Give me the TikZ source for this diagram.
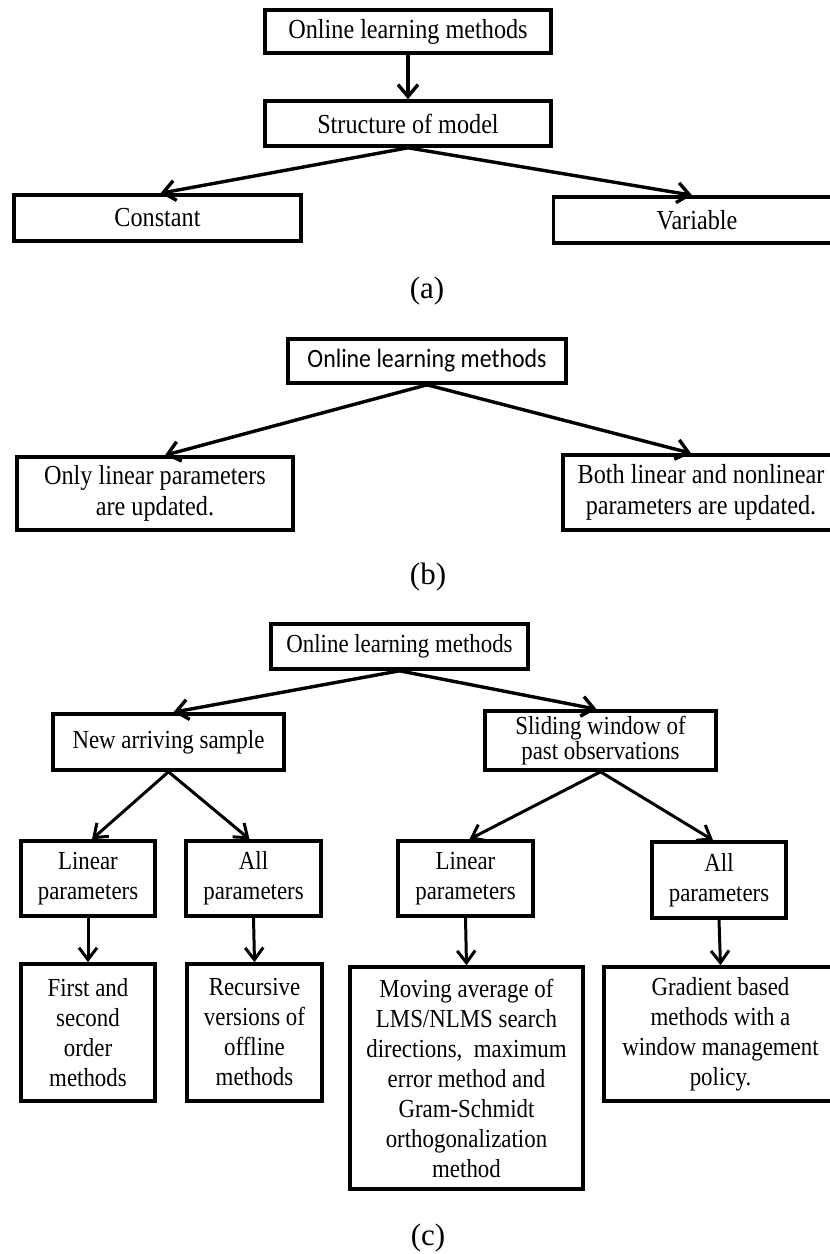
\documentclass[tikz,border=0pt]{standalone}
\usepackage{fontspec}
\setmainfont{Liberation Serif}
\newfontfamily\narrowserif{Liberation Serif}[FakeStretch=0.88]
\newfontfamily\narrowsans{Carlito}[FakeStretch=0.9]
\usetikzlibrary{arrows.meta}
\begin{document}
\begin{tikzpicture}[x=1pt,y=-1pt,
  box/.style={draw=black,line width=3.6pt,inner sep=0pt,align=center,fill=white},
  bigtxt/.style={font=\narrowserif\fontsize{27.5}{31}\selectfont},
  smalltxt/.style={font=\narrowserif\fontsize{26}{30}\selectfont},
  caption/.style={font=\fontsize{31}{36}\selectfont,inner sep=0pt},
  link/.style={line width=3.4pt,-{Straight Barb[length=12pt,width=20pt]}},
  sublink/.style={line width=3pt,-{Straight Barb[length=12pt,width=18pt]}}]
\useasboundingbox (0,0) rectangle (830,1254);
\fill[white] (0,0) rectangle (830,1254);
\clip (0,0) rectangle (830,1254);

% ---------- (a) structure of the model ----------
\node[box,bigtxt,minimum width=286pt,minimum height=43pt] (a0) at (408,31.5) {Online learning methods};
\node[box,bigtxt,minimum width=286pt,minimum height=45pt] (a1) at (408,123.5) {Structure of model};
\node[box,bigtxt,minimum width=287pt,minimum height=46pt] (a2) at (157.5,218) {Constant};
\node[box,bigtxt,minimum width=287pt,minimum height=46pt] (a3) at (697,220) {Variable};
\draw[link] (a0.south) -- (a1.north);
\draw[link] (a1.south) -- ([xshift=3pt]a2.north);
\draw[link] (a1.south) -- ([xshift=-5pt]a3.north);
\node[caption] (capa) at (427,291) {(a)};

% ---------- (b) updated parameters ----------
\node[box,font=\narrowsans\fontsize{26.5}{30}\selectfont,minimum width=278pt,minimum height=44pt] (b0) at (427,361) {Online learning methods};
\node[box,bigtxt,minimum width=276pt,minimum height=73pt] (b1) at (155,493.5) {Only linear parameters\\are updated.};
\node[box,bigtxt,minimum width=276pt,minimum height=75pt] (b2) at (701,492.5) {Both linear and nonlinear\\parameters are updated.};
\draw[link] (b0.south) -- ([xshift=10pt]b1.north);
\draw[link] (b0.south) -- ([xshift=-10pt]b2.north);
\node[caption] (capb) at (428,577.5) {(b)};

% ---------- (c) data used for the update ----------
\node[box,smalltxt,minimum width=257pt,minimum height=45pt] (c0) at (399.5,646.5) {Online learning methods};
\node[box,smalltxt,minimum width=231pt,minimum height=56pt] (c1) at (168.5,742) {New arriving sample};
\node[box,font=\narrowserif\fontsize{26}{22}\selectfont,minimum width=231pt,minimum height=59pt] (c2) at (600.5,740.5) {Sliding window of\\past observations};
\node[box,smalltxt,minimum width=134pt,minimum height=75pt] (c3) at (88,878.5) {Linear\\parameters};
\node[box,smalltxt,minimum width=135pt,minimum height=75pt] (c4) at (253.5,878.5) {All\\parameters};
\node[box,smalltxt,minimum width=135pt,minimum height=75pt] (c5) at (465.5,878.5) {Linear\\parameters};
\node[box,smalltxt,minimum width=134pt,minimum height=76pt] (c6) at (719,880) {All\\parameters};
\node[box,smalltxt,minimum width=134pt,minimum height=137pt] (c7) at (88,1032.5) {First and\\second\\order\\methods};
\node[box,smalltxt,minimum width=135pt,minimum height=137pt] (c8) at (254.5,1032.5) {Recursive\\versions of\\offline\\methods};
\node[box,smalltxt,minimum width=233pt,minimum height=222pt] (c9) at (466.5,1078) {Moving average of\\LMS/NLMS search\\directions,\ \ maximum\\error method and\\Gram-Schmidt\\orthogonalization\\method};
\node[box,smalltxt,minimum width=233pt,minimum height=134pt] (c10) at (720.5,1034) {Gradient based\\methods with a\\window management\\policy.};
\draw[link] (c0.south) -- ([xshift=5pt]c1.north);
\draw[link] (c0.south) -- ([xshift=-4pt]c2.north);
\draw[sublink] (c1.south) -- ([xshift=4pt]c3.north);
\draw[sublink] (c1.south) -- ([xshift=-4pt]c4.north);
\draw[sublink] (c2.south) -- ([xshift=4pt]c5.north);
\draw[sublink] (c2.south) -- ([xshift=-6pt]c6.north);
\draw[sublink] (c3.south) -- (c7.north);
\draw[sublink] (c4.south) -- (c8.north);
\draw[sublink] (c5.south) -- (c9.north);
\draw[sublink] (c6.south) -- (c10.north);
\node[caption] (capc) at (428,1238) {(c)};
\end{tikzpicture}
\end{document}
